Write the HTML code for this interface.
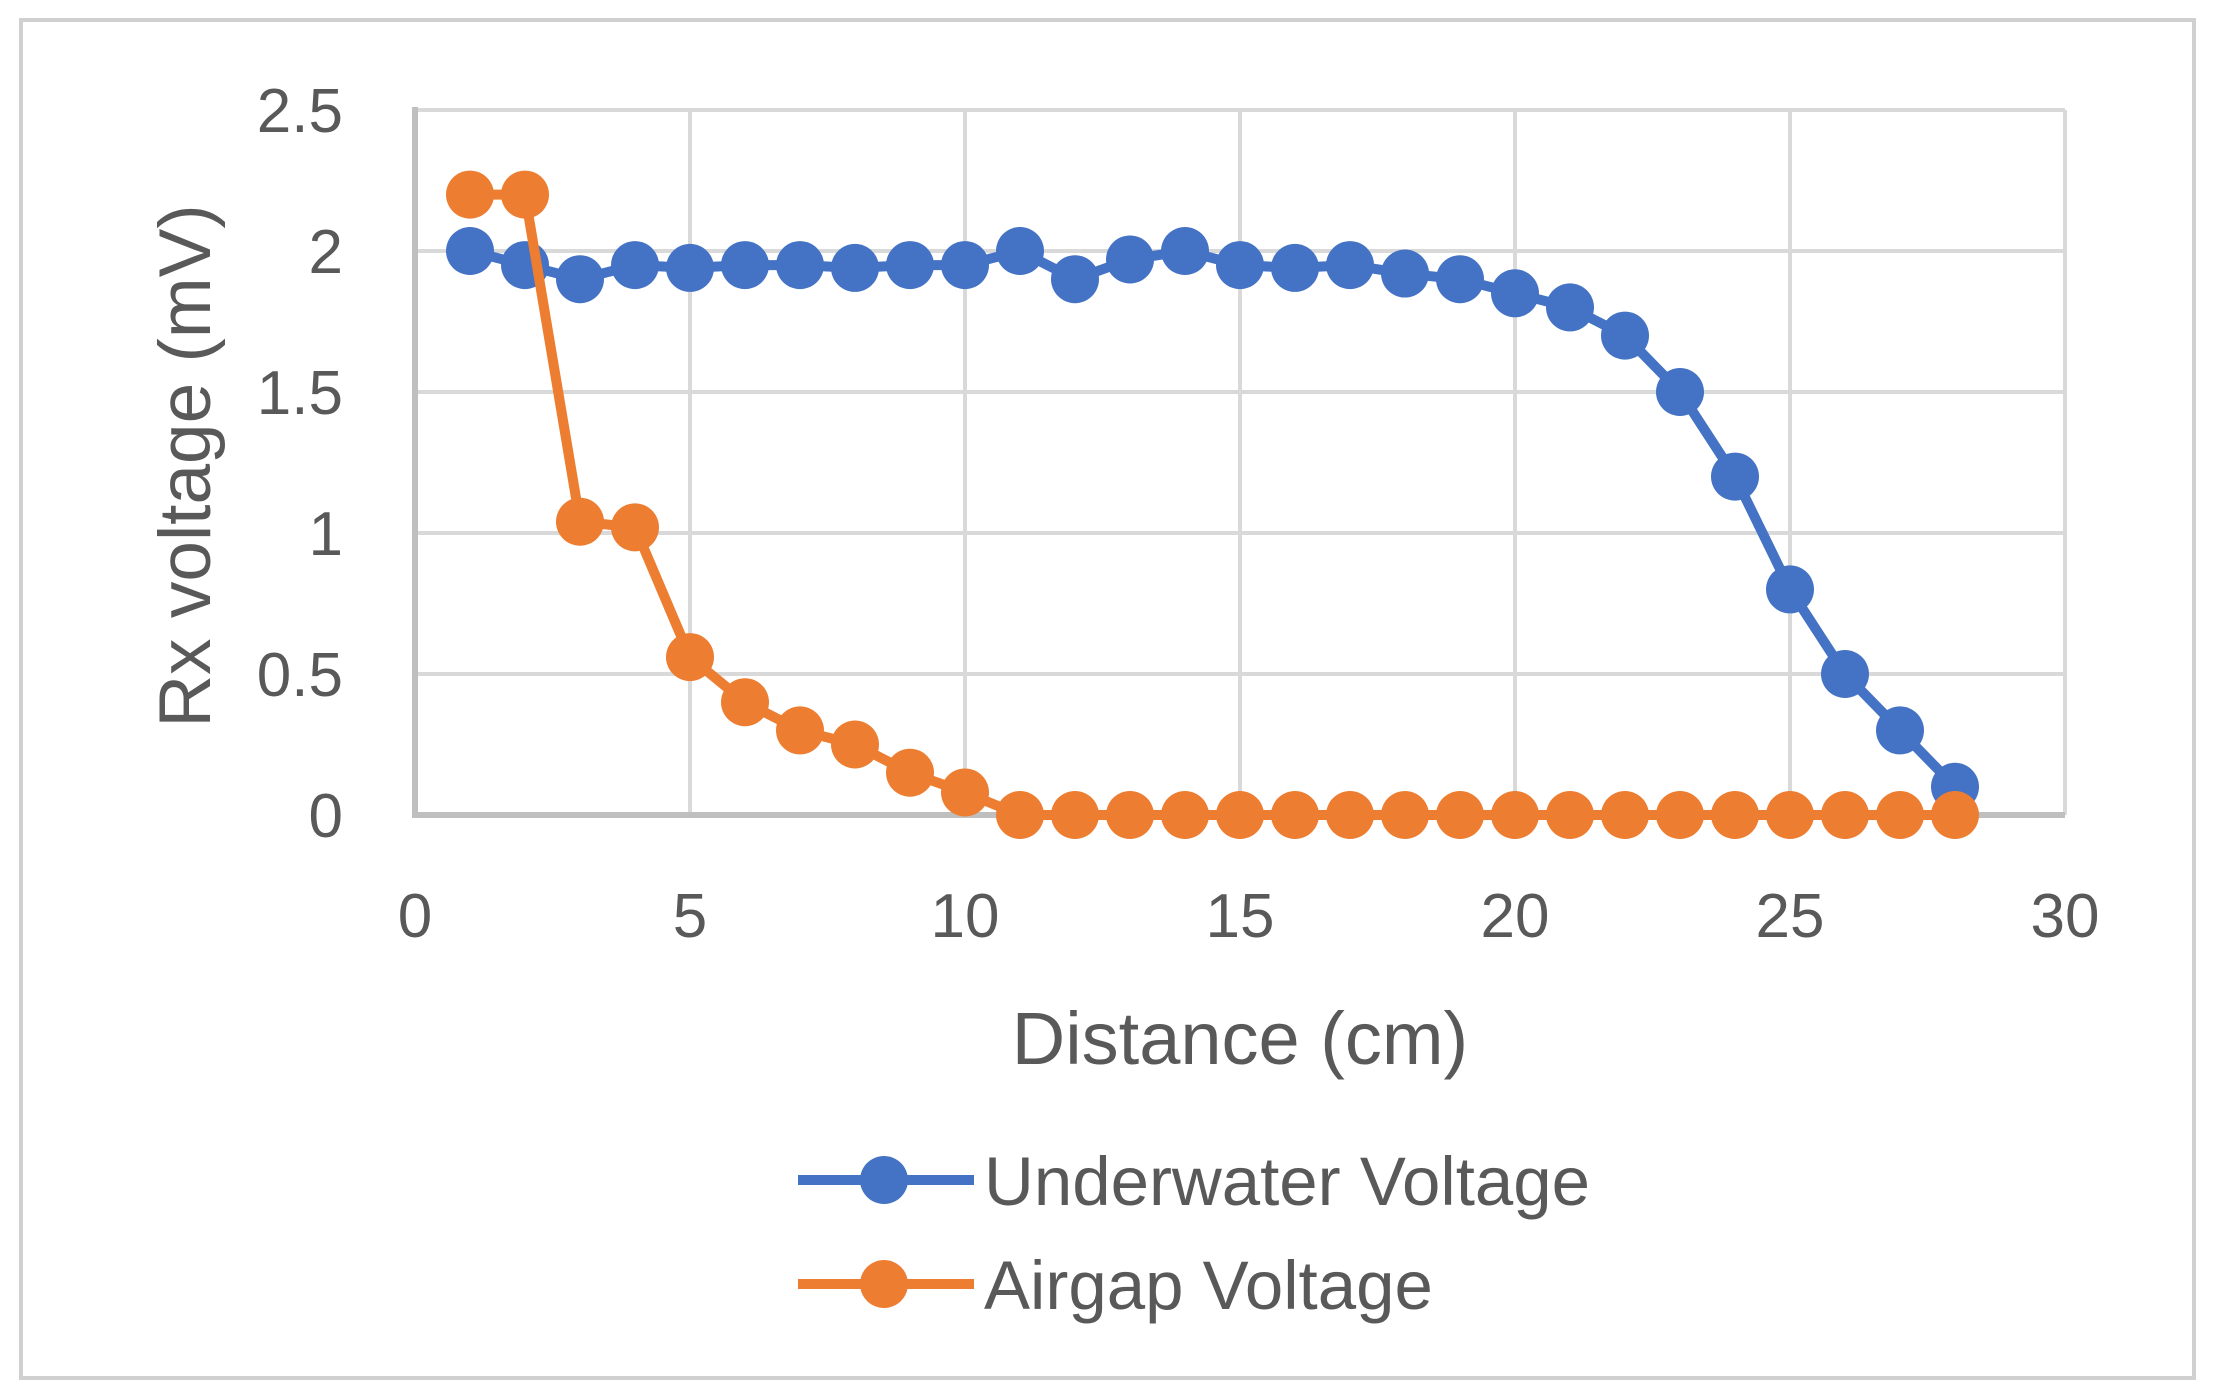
<!DOCTYPE html>
<html><head><meta charset="utf-8"><style>
html,body{margin:0;padding:0;background:#fff;}
svg{display:block;}
text{font-family:"Liberation Sans",sans-serif;fill:#595959;}
</style></head><body>
<svg width="2214" height="1399" xmlns="http://www.w3.org/2000/svg">
<rect x="0" y="0" width="2214" height="1399" fill="#fff"/>
<rect x="21" y="20" width="2173" height="1358" fill="none" stroke="#d0d0d0" stroke-width="4"/>
<g id="grid" stroke="#d9d9d9" stroke-width="4"></g>
<g id="axes" stroke="#bfbfbf" stroke-width="6"></g>
<g id="ylab" font-size="62" text-anchor="end"></g>
<g id="xlab" font-size="62" text-anchor="middle"></g>
<text x="1240" y="1064" font-size="74" text-anchor="middle">Distance (cm)</text>
<text transform="translate(210,466) rotate(-90)" font-size="73" text-anchor="middle">Rx voltage (mV)</text>
<g id="series"></g>
<line x1="798" y1="1180" x2="974" y2="1180" stroke="#4472c4" stroke-width="10"/>
<circle cx="884" cy="1180" r="24" fill="#4472c4"/>
<text x="984" y="1205" font-size="69">Underwater Voltage</text>
<line x1="798" y1="1284" x2="974" y2="1284" stroke="#ed7d31" stroke-width="10"/>
<circle cx="884" cy="1284" r="24" fill="#ed7d31"/>
<text x="984" y="1309" font-size="69">Airgap Voltage</text>
</svg>
<script>
const NS="http://www.w3.org/2000/svg";
const X0=415,X1=2065,Y0=815,Y1=110;
const px=x=>X0+(X1-X0)*x/30, py=y=>Y0-(Y0-Y1)*y/2.5;
function el(p,t,a,txt){const e=document.createElementNS(NS,t);for(const k in a)e.setAttribute(k,a[k]);if(txt!==undefined)e.textContent=txt;document.getElementById(p).appendChild(e);return e;}
for(let i=0;i<=5;i++){const y=py(i*0.5);if(i>0)el("grid","line",{x1:X0,x2:X1,y1:y,y2:y});
 el("ylab","text",{x:343,y:y+22},String(i*0.5));}
for(let i=0;i<=6;i++){const x=px(i*5);if(i>0)el("grid","line",{x1:x,x2:x,y1:Y1,y2:Y0});
 el("xlab","text",{x:x,y:937},String(i*5));}
el("axes","line",{x1:X0,x2:X0,y1:Y1-3,y2:Y0});
el("axes","line",{x1:X0-3,x2:X1,y1:Y0,y2:Y0});
const blue=[2,1.95,1.9,1.95,1.94,1.95,1.95,1.94,1.95,1.95,2.0,1.9,1.97,2.0,1.95,1.94,1.95,1.92,1.9,1.85,1.8,1.7,1.5,1.2,0.8,0.5,0.3,0.1];
const orange=[2.2,2.2,1.04,1.02,0.56,0.4,0.3,0.25,0.15,0.08,0,0,0,0,0,0,0,0,0,0,0,0,0,0,0,0,0,0];
function series(d,c){el("series","polyline",{points:d.map((v,i)=>px(i+1)+","+py(v)).join(" "),fill:"none",stroke:c,"stroke-width":10,"stroke-linejoin":"round"});
 d.forEach((v,i)=>el("series","circle",{cx:px(i+1),cy:py(v),r:24,fill:c}));}
series(blue,"#4472c4");series(orange,"#ed7d31");
</script>
</body></html>
